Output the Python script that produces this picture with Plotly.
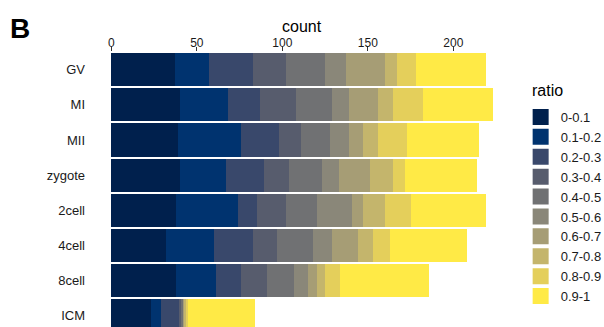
import plotly.graph_objects as go

stages = ["GV", "MI", "MII", "zygote", "2cell", "4cell", "8cell", "ICM"]
ratio_bins = ["0-0.1", "0.1-0.2", "0.2-0.3", "0.3-0.4", "0.4-0.5",
              "0.5-0.6", "0.6-0.7", "0.7-0.8", "0.8-0.9", "0.9-1"]

# counts per stage, one value per ratio bin (in ratio_bins order)
gv     = [37, 20, 26, 19, 23, 12, 23, 7, 11, 41]
mi     = [40, 28, 19, 21, 21, 10, 17, 9, 17, 41]
mii    = [39, 37, 22, 13, 17, 11, 8, 9, 17, 42]
zygote = [40, 27, 22, 15, 19, 10, 18, 14, 7, 42]
cell2  = [38, 36, 11, 17, 18, 21, 6, 13, 15, 44]
cell4  = [32, 28, 23, 14, 21, 11, 15, 9, 10, 45]
cell8  = [38, 23, 15, 15, 16, 8, 5, 5, 9, 52]
icm    = [23, 6, 11, 1, 1, 0, 1, 1, 1, 39]

stage_counts = [gv, mi, mii, zygote, cell2, cell4, cell8, icm]

colors = ["#00204D", "#00336F", "#39486B", "#575C6D", "#707173",
          "#8A8779", "#A69D75", "#C4B56C", "#E4CF5B", "#FFEA46"]

W, H = 604, 327
L, R, T, B = 92, 92, 52, 0
PW, PH = W - L - R, H - T - B


def px_x(px):
    return (px - L) / PW


def px_y(py):
    return (H - B - py) / PH


fig = go.Figure()
for i, b in enumerate(ratio_bins):
    fig.add_trace(go.Bar(
        y=stages, x=[sc[i] for sc in stage_counts], orientation="h",
        name=b, marker=dict(color=colors[i], line=dict(width=0)),
        showlegend=False, hoverinfo="x+y+name"))
for i, b in enumerate(ratio_bins):
    fig.add_trace(go.Scatter(
        x=[None], y=[None], mode="markers", name=b,
        marker=dict(symbol="square", size=17, color=colors[i]),
        showlegend=True))

fig.update_layout(
    width=W, height=H,
    margin=dict(l=L, r=R, t=T, b=B, autoexpand=False),
    barmode="stack", bargap=0.06,
    plot_bgcolor="white", paper_bgcolor="white",
    font=dict(family="Liberation Sans, Arial, sans-serif", color="#1a1a1a"),
    xaxis=dict(side="top", range=[-11.3, 234.3], tickvals=[0, 50, 100, 150, 200],
               ticks="outside", ticklen=4, tickcolor="#333333", tickwidth=1,
               showgrid=False, zeroline=False, showline=False,
               ticklabelstandoff=-5,
               tickfont=dict(size=12, color="#1a1a1a")),
    yaxis=dict(categoryorder="array", categoryarray=stages,
               range=[7.315, -0.5], showgrid=False, zeroline=False,
               showline=False, ticks="", ticklabelstandoff=6,
               tickfont=dict(size=13, color="#1a1a1a")),
    legend=dict(xref="container", yref="container", x=0.862, y=1 - 102 / H,
                xanchor="left", yanchor="top", traceorder="normal",
                maxheight=1.0,
                font=dict(size=13, color="#1a1a1a"), tracegroupgap=0,
                itemsizing="trace", bgcolor="rgba(0,0,0,0)"),
    annotations=[
        dict(text="<b>B</b>", xref="paper", yref="paper",
             x=px_x(8), y=px_y(28), xanchor="left", yanchor="middle",
             showarrow=False, font=dict(size=28, color="#000")),
        dict(text="count", xref="paper", yref="paper",
             x=0.5, y=px_y(26), xanchor="center", yanchor="middle",
             showarrow=False, font=dict(size=16, color="#000")),
        dict(text="ratio", xref="paper", yref="paper",
             x=px_x(530), y=px_y(90), xanchor="left", yanchor="middle",
             showarrow=False, font=dict(size=16, color="#000")),
    ],
)

fig.write_html("out.html")
